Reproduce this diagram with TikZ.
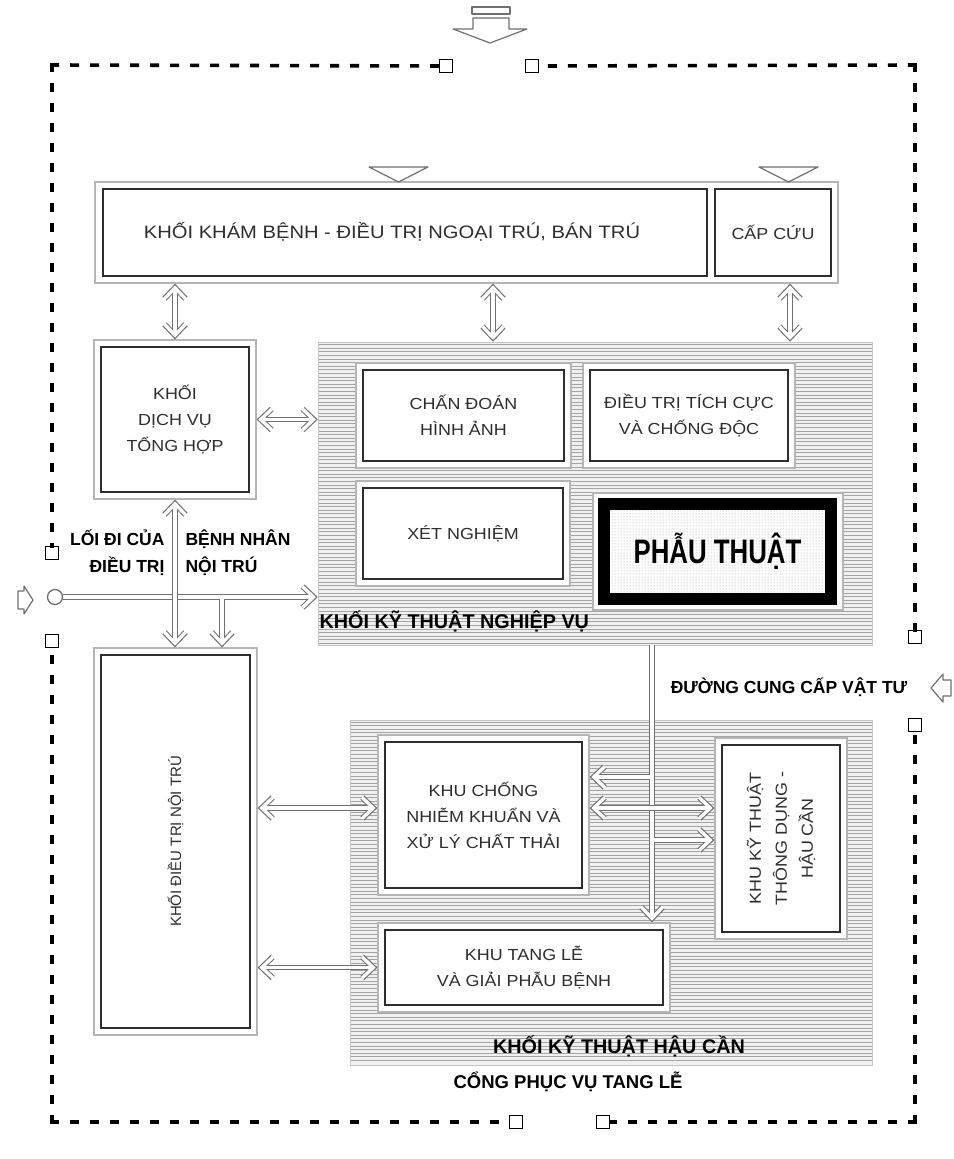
\documentclass[tikz,border=0pt]{standalone}
\usepackage{fontspec}
\setmainfont{Liberation Sans}
\newfontfamily\bxfont[FakeStretch=1.12]{Liberation Sans}
\newfontfamily\ptfont[FakeStretch=0.76]{Liberation Sans}
\usetikzlibrary{arrows.meta,patterns}
\definecolor{boxline}{HTML}{2E2E2E}
\definecolor{frameline}{HTML}{B5B5B5}
\definecolor{arrline}{HTML}{707070}
\definecolor{hatchbg}{HTML}{F0F0F0}
\definecolor{hatchln}{HTML}{A5A5A5}
\tikzset{
  outerfr/.style={draw=frameline, line width=1.3, fill=white, inner sep=0},
  innerbx/.style={draw=boxline, line width=2.2, fill=white, inner sep=0},
  boxtext/.style={font=\bxfont\fontsize{16}{26}\selectfont, text=boxline, align=center},
  lbl/.style={font=\bfseries\fontsize{17.5}{27}\selectfont, text=black},
  barb/.tip={Straight Barb[length=11pt,width=21pt]},
  onehead/.style={draw=arrline, line width=5.6, -barb,
      postaction={draw=white, line width=3.4, shorten >=1.7pt}},
  twohead/.style={draw=arrline, line width=5.6, barb-barb,
      postaction={draw=white, line width=3.4, shorten >=1.7pt, shorten <=1.7pt}},
  border/.style={line width=3.6, line cap=rect, dash pattern=on 5.4pt off 14.6pt},
  sqmark/.style={draw=black, line width=1.6, fill=white, minimum size=13, inner sep=0},
  region/.style={draw=gray!45, line width=0.6, fill=hatchbg, inner sep=0},
  hatchline/.style={draw=hatchln, line width=0.8},
  icon/.style={draw=arrline, line width=1.2, fill=white, line join=round},
}
\newcommand\ubox[6]{%
  \node[outerfr, minimum width=#3+14, minimum height=#4+14] (#1o) at (#2) {};
  \node[innerbx, minimum width=#3, minimum height=#4] (#1) at (#2) {};
  \node[boxtext, #5] (#1t) at (#1) {#6};
}
\begin{document}
\begin{tikzpicture}[x=1pt,y=-1pt]
\useasboundingbox[fill=white] (0,0) rectangle (953,1159);

% ---------- hatched regions ----------
\node[region, minimum width=554, minimum height=303] (nv) at (595,493.5) {};
\foreach \yy in {344.5,348.1,...,644} \draw[hatchline] (318.5,\yy) -- (871.5,\yy);
\node[region, minimum width=522, minimum height=345] (hc) at (611,892.5) {};
\foreach \yy in {722,725.6,...,1064} \draw[hatchline] (350.5,\yy) -- (871.5,\yy);

% ---------- top block ----------
\node[outerfr, minimum width=743, minimum height=101] (topfr) at (466.5,232.5) {};
\node[innerbx, minimum width=604, minimum height=87] (kham) at (405,232.5) {};
\node[innerbx, minimum width=116, minimum height=87] (capcuu) at (773,232.5) {};
\node[boxtext, font=\bxfont\fontsize{18}{26}\selectfont] (khamt) at (392,232) {KHỐI KHÁM BỆNH - ĐIỀU TRỊ NGOẠI TRÚ, BÁN TRÚ};
\node[boxtext] (capcuut) at (capcuu) {CẤP CỨU};

% small entry triangles on top
\draw[icon, fill=none] (369,167) -- (428,167) -- (398.5,182) -- cycle;
\draw[icon, fill=none] (759,167) -- (818,167) -- (788.5,182) -- cycle;

% ---------- other boxes ----------
\ubox{dichvu}{175,419.5}{148}{145}{}{KHỐI\\DỊCH VỤ\\TỔNG HỢP}
\ubox{chandoan}{463.5,415.5}{201}{91}{}{CHẤN ĐOÁN\\HÌNH ẢNH}
\ubox{dieutri}{689,415.5}{198}{91}{}{ĐIỀU TRỊ TÍCH CỰC\\VÀ CHỐNG ĐỘC}
\ubox{xetnghiem}{463,533.5}{200}{91}{}{XÉT NGHIỆM}
\ubox{noitru}{175.5,841.5}{149}{373}{rotate=90, font=\fontsize{15}{26}\selectfont}{KHỐI ĐIỀU TRỊ NỘI TRÚ}
\ubox{chongnhiem}{483.5,815}{197}{146}{}{KHU CHỐNG\\NHIỄM KHUẨN VÀ\\XỬ LÝ CHẤT THẢI}
\ubox{thongdung}{781,838.5}{118}{187}{rotate=90}{KHU KỸ THUẬT\\THÔNG DỤNG -\\HẬU CẦN}
\ubox{tangle}{524,967.5}{278}{75}{}{KHU TANG LỄ\\VÀ GIẢI PHẪU BỆNH}

% surgery
\node[outerfr, minimum width=250, minimum height=117] (ptho) at (718,551.5) {};
\node[draw=black, line width=12, preaction={fill=white},
      preaction={pattern=dots, pattern color=gray!75},
      minimum width=227, minimum height=95, inner sep=0,
      font=\ptfont\bfseries\fontsize{34}{36}\selectfont] (pth) at (717.5,551.5) {PHẪU THUẬT};

% ---------- labels ----------
\node[lbl, anchor=west, font=\bfseries\fontsize{19.8}{27}\selectfont] (nvlbl) at (316,621) {KHỐI KỸ THUẬT NGHIỆP VỤ};
\node[lbl, font=\bfseries\fontsize{19.8}{27}\selectfont] (hclbl) at (619,1046) {KHỐI KỸ THUẬT HẬU CẦN};
\node[lbl, font=\bfseries\fontsize{18.5}{27}\selectfont] (conglbl) at (568,1082) {CỔNG PHỤC VỤ TANG LỄ};
\node[lbl] (duonglbl) at (789,687) {ĐƯỜNG CUNG CẤP VẬT TƯ};
\node[lbl, anchor=east, align=right] (loidiL) at (168,553) {LỐI ĐI CỦA\\ĐIỀU TRỊ};
\node[lbl, anchor=west, align=left] (loidiR) at (182,553) {BỆNH NHÂN\\NỘI TRÚ};

% ---------- connectors ----------
\draw[twohead] (topfr.south -| dichvuo.north) -- (dichvuo.north);
\draw[twohead] ([xshift=26.5]topfr.south) -- ([xshift=26.5]topfr.south |- nv.north);
\draw[twohead] ([xshift=17]capcuu.south |- topfr.south) -- ([xshift=17]capcuu.south |- nv.north);
\draw[twohead] (dichvuo.east) -- (dichvuo.east -| nv.west);

\node[circle, draw=arrline, line width=1.3, fill=white, minimum size=15, inner sep=0] (entry) at (55,597) {};
\draw[onehead] (entry.east) -- (entry -| nv.west);
\coordinate (br) at (222,598.7);
\draw[onehead] (br) -- (br |- noitruo.north);
\draw[twohead] (dichvuo.south) -- (dichvuo.south |- noitruo.north);

\draw[twohead] ([yshift=7]chongnhiemo.west -| noitruo.east) -- ([yshift=7]chongnhiemo.west);
\draw[twohead] (tangleo.west -| noitruo.east) -- (tangleo.west);

\coordinate (sup) at (652,645);
\coordinate (b1) at (650.3,777);
\coordinate (b2) at (652,808);
\coordinate (b3) at (653.7,840);
\draw[onehead] (sup) -- (sup |- tangleo.north);
\draw[onehead] (b1) -- (b1 -| chongnhiemo.east);
\draw[onehead] (b3) -- (b3 -| thongdungo.west);
\draw[twohead] (b2 -| chongnhiemo.east) -- (b2 -| thongdungo.west);

% ---------- entry icons ----------
\draw[icon] (472,7) rectangle (510,14);
\draw[icon] (473,18) -- (473,29) -- (453,29) -- (490,43) -- (527,29) -- (509,29) -- (509,18) -- cycle;
\draw[icon] (18,591) -- (24,591) -- (24,586) -- (33,600) -- (24,614) -- (24,609) -- (18,609) -- cycle;
\draw[icon] (951,680) -- (943,680) -- (943,674) -- (931,688) -- (943,702) -- (943,696) -- (951,696) -- cycle;

% ---------- site border ----------
\coordinate (tl) at (52,65);
\coordinate (tr) at (915,65);
\coordinate (bl) at (52,1122);
\coordinate (brc) at (915,1122);
\node[sqmark] (sqa) at (446,66) {};
\node[sqmark] (sqb) at (532,66) {};
\node[sqmark] (sqc) at (52,553) {};
\node[sqmark] (sqd) at (52,641) {};
\node[sqmark] (sqe) at (915,637) {};
\node[sqmark] (sqf) at (915,725) {};
\node[sqmark] (sqg) at (516,1122) {};
\node[sqmark] (sqh) at (603,1122) {};
\draw[border] (tl) -- (sqa.west);
\draw[border] (tr) -- (sqb.east);
\draw[border] (tl) -- (sqc.north);
\draw[border] (bl) -- (sqd.south);
\draw[border] (tr) -- (sqe.north);
\draw[border] (brc) -- (sqf.south);
\draw[border] (bl) -- (sqg.west);
\draw[border] (brc) -- (sqh.east);
\end{tikzpicture}
\end{document}
